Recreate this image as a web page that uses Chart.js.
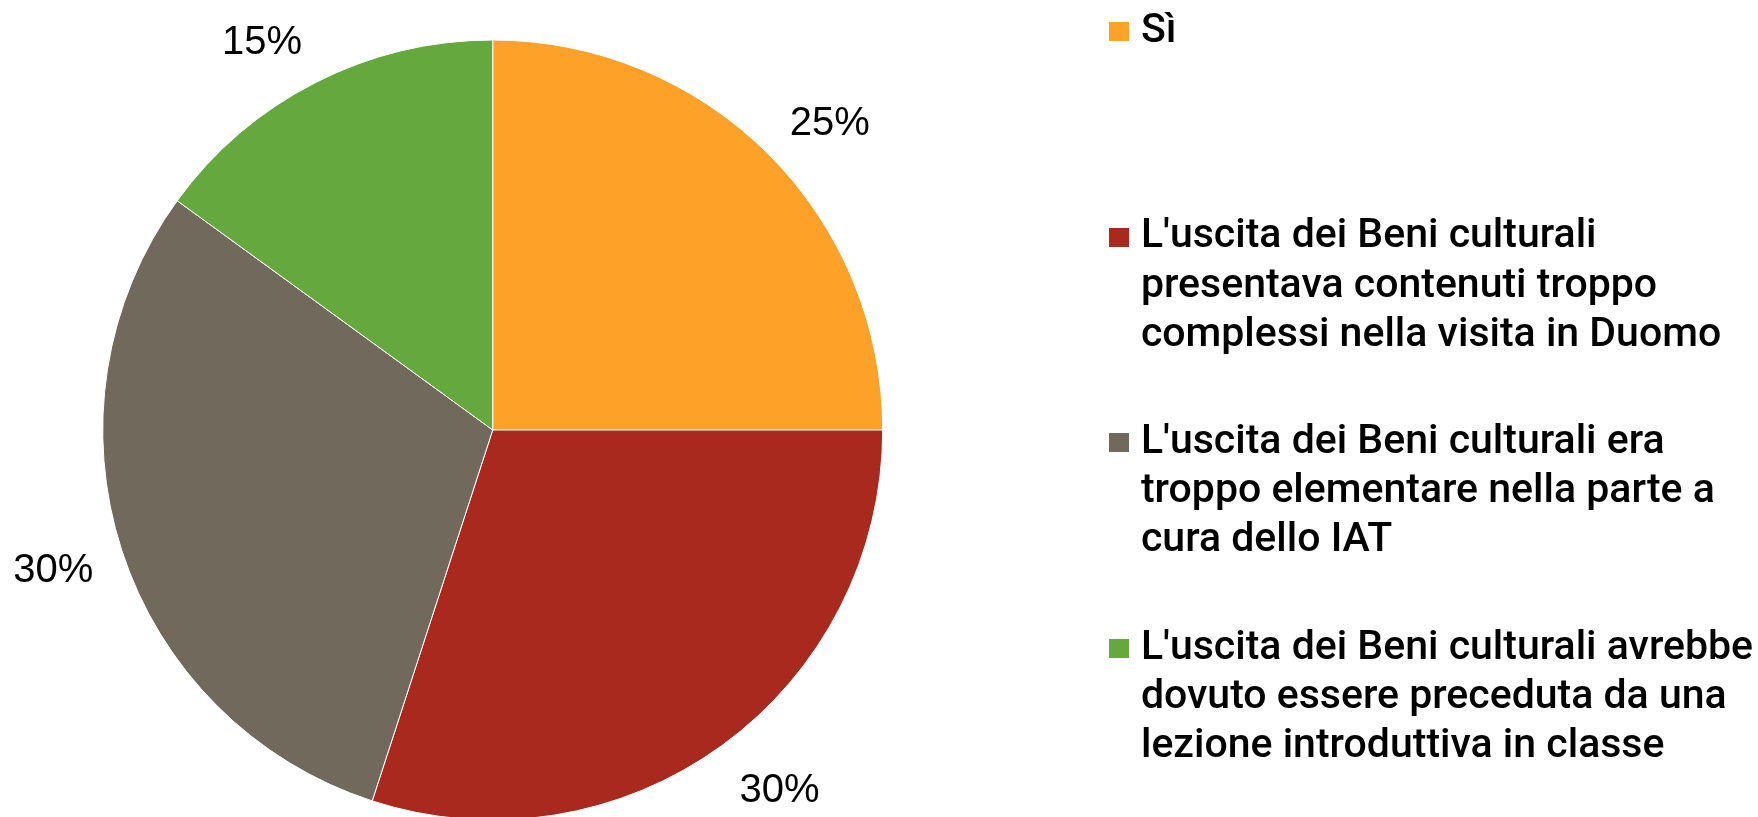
<!DOCTYPE html>
<html>
<head>
<meta charset="utf-8">
<script src="https://cdn.jsdelivr.net/npm/chart.js@4"></script>
<style>
  html, body { margin: 0; padding: 0; background: #fff; overflow: hidden; }
  body { width: 1758px; height: 817px; position: relative; }
  /* the pie is slightly cut at the bottom in the original, so the canvas is larger than the page */
  #wrap { position: absolute; left: -74px; top: -47px; width: 1837px; height: 954px; }
</style>
</head>
<body>
<div id="wrap"><canvas id="myChart"></canvas></div>
<script>
  // dati
  const categories = [
    ['Sì'],
    ["L'uscita dei Beni culturali", 'presentava contenuti troppo', 'complessi nella visita in Duomo'],
    ["L'uscita dei Beni culturali era", 'troppo elementare nella parte a', 'cura dello IAT'],
    ["L'uscita dei Beni culturali avrebbe", 'dovuto essere preceduta da una', 'lezione introduttiva in classe']
  ];
  const values = [25, 30, 30, 15];
  const colors = ['#FDA128', '#A9291F', '#71695B', '#65A83D'];

  // quadratino colorato della legenda
  function swatch(color) {
    const c = document.createElement('canvas');
    c.width = 20;
    c.height = 19;
    const g = c.getContext('2d');
    g.fillStyle = color;
    g.fillRect(0, 0, 20, 19);
    return c;
  }

  // etichette percentuali fuori dalla torta
  const pctLabels = {
    id: 'pctLabels',
    afterDatasetsDraw(chart) {
      const ctx = chart.ctx;
      const meta = chart.getDatasetMeta(0);
      const total = values.reduce((a, b) => a + b, 0);
      ctx.save();
      ctx.font = '40px "Liberation Sans", Arial, sans-serif';
      ctx.fillStyle = '#000';
      ctx.textAlign = 'center';
      ctx.textBaseline = 'middle';
      meta.data.forEach((arc, i) => {
        const p = arc.getProps(['x', 'y', 'startAngle', 'endAngle', 'outerRadius'], true);
        const mid = (p.startAngle + p.endAngle) / 2;
        const r = p.outerRadius + 30;
        const txt = Math.round(values[i] / total * 100) + '%';
        const w = ctx.measureText(txt).width;
        const c = Math.cos(mid), s = Math.sin(mid);
        const x = p.x + c * r + Math.sign(c) * w / 2;
        const y = p.y + s * (r + 20) + 5;
        ctx.fillText(txt, x, y);
      });
      ctx.restore();
    }
  };

  const ctx = document.getElementById('myChart');

  new Chart(ctx, {
    type: 'pie',
    data: {
      labels: categories,
      datasets: [{
        data: values,
        backgroundColor: colors,
        borderColor: '#ffffff',
        borderWidth: 1,
        radius: 390
      }]
    },
    options: {
      responsive: true,
      maintainAspectRatio: false,
      animation: false,
      layout: { padding: 0 },
      plugins: {
        tooltip: { enabled: false },
        legend: {
          position: 'right',
          align: 'start',
          labels: {
            color: '#000',
            font: { family: 'Roboto, "Liberation Sans", Arial, sans-serif', size: 41, weight: 500, lineHeight: 1.2 },
            usePointStyle: true,
            pointStyleWidth: 3,
            boxHeight: 19,
            padding: 58,
            generateLabels(chart) {
              const items = Chart.overrides.pie.plugins.legend.labels.generateLabels(chart);
              // ogni voce occupa tre righe, come nell'originale
              items.forEach((it, i) => {
                const lines = it.text.slice();
                while (lines.length < 3) lines.push('');
                it.text = lines;
                it.pointStyle = swatch(colors[i]);
                it.lineWidth = 0;
              });
              return items;
            }
          }
        }
      }
    },
    plugins: [pctLabels]
  });
</script>
</body>
</html>
